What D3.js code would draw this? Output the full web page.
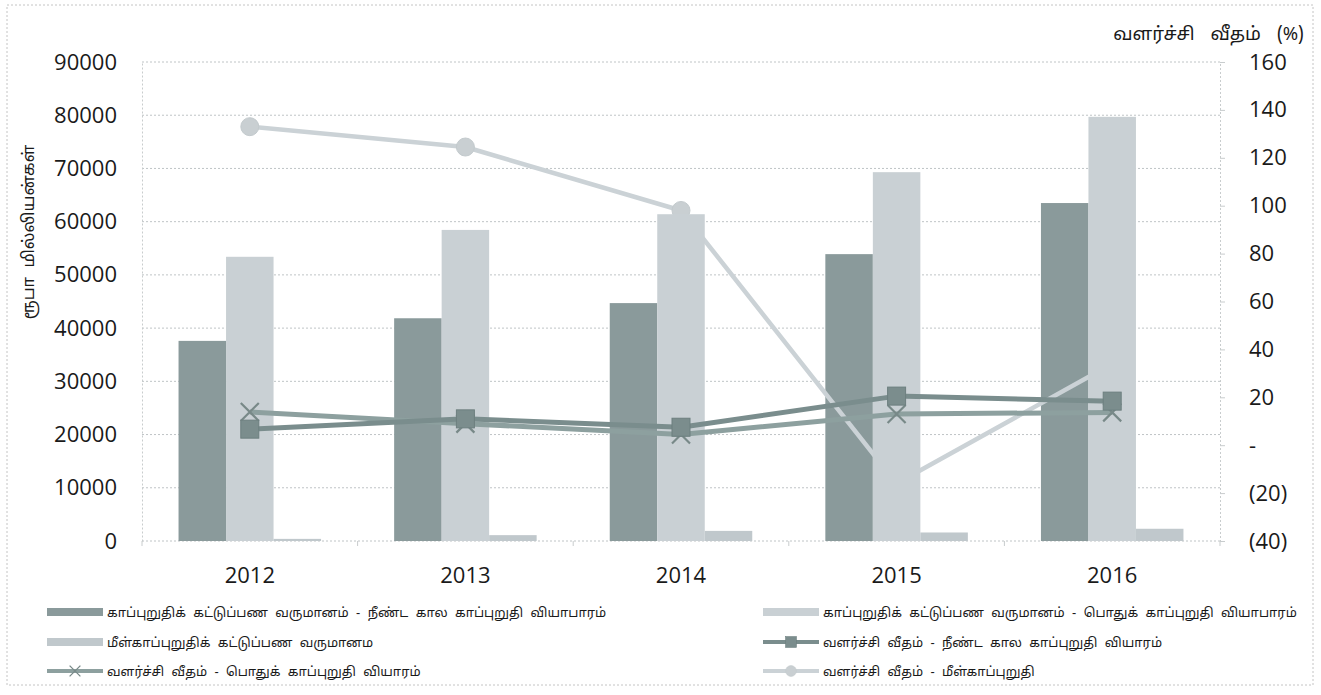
<!DOCTYPE html>
<html><head><meta charset="utf-8">
<script src="https://cdn.jsdelivr.net/npm/d3@7"></script>
<style>body{margin:0;background:#fff} svg{display:block}</style>
</head><body><svg id="c" width="1321" height="695"></svg>
<script>
const years = ["2012", "2013", "2014", "2015", "2016"];
const longTermPremium = [37600, 41850, 44700, 53900, 63500];
const generalPremium = [53400, 58450, 61400, 69300, 79700];
const reinsurancePremium = [400, 1100, 1900, 1600, 2300];
const longTermGrowth = [6.7, 11, 7.5, 20.5, 18.4];
const generalGrowth = [13.9, 9, 4.5, 13, 13.7];
const reinsuranceGrowth = [133, 124.5, 98, -16, 34];
const leftTicks = [0, 10000, 20000, 30000, 40000, 50000, 60000, 70000, 80000, 90000];
const rightTicks = [-40, -20, 0, 20, 40, 60, 80, 100, 120, 140, 160];
const rightTickLabels = ["(40)", "(20)", "-", "20", "40", "60", "80", "100", "120", "140", "160"];
const barNames = [
  "காப்புறுதிக் கட்டுப்பண வருமானம் - நீண்ட கால காப்புறுதி வியாபாரம்",
  "காப்புறுதிக் கட்டுப்பண வருமானம் - பொதுக் காப்புறுதி வியாபாரம்",
  "மீள்காப்புறுதிக் கட்டுப்பண வருமானம"
];
const lineNames = [
  "வளர்ச்சி வீதம் - நீண்ட கால காப்புறுதி வியாரம்",
  "வளர்ச்சி வீதம் - பொதுக் காப்புறுதி வியாரம்",
  "வளர்ச்சி வீதம் - மீள்காப்புறுதி"
];
const leftTitle = "ரூபா மில்லியன்கள்";
const rightTitle = "வளர்ச்சி வீதம் (%)";

const m = {left: 142, right: 1220, top: 62, bottom: 541};
const tamilFont = "'Noto Sans Tamil','Latha','Lohit Tamil',sans-serif";
const numFont = "'Open Sans',Carlito,sans-serif";

const barColors = ["#8a9a9b", "#c9d0d4", "#c0c8cc"];
const lineColors = ["#7a8d8d", "#8da09f", "#cbd2d6"];

const svg = d3.select("#c");
svg.append("rect").attr("x", 7).attr("y", 5).attr("width", 1306).attr("height", 680)
  .attr("fill", "#fff").attr("stroke", "#c4c4c4").attr("stroke-dasharray", "2,2");

const x = d3.scaleBand().domain(years).range([m.left, m.right]).paddingInner(0.339).paddingOuter(0.1695);
const xs = d3.scaleBand().domain([0, 1, 2]).range([0, x.bandwidth()]);
const xc = d => x(d) + x.bandwidth() / 2;
const yL = d3.scaleLinear().domain([0, 90000]).range([m.bottom, m.top]);
const yR = d3.scaleLinear().domain([-40, 160]).range([m.bottom, m.top]);

// gridlines
svg.append("g").selectAll("line").data(leftTicks).join("line")
  .attr("x1", m.left).attr("x2", m.right).attr("y1", d => yL(d)).attr("y2", d => yL(d))
  .attr("stroke", "#bfc4c6").attr("stroke-width", 1).attr("stroke-dasharray", "2,2");

// left axis
const gL = svg.append("g").attr("transform", `translate(${m.left},0)`)
  .call(d3.axisLeft(yL).tickValues(leftTicks).tickSize(0).tickPadding(25).tickFormat(d3.format("d")));
gL.select(".domain").attr("stroke", "#c8cccd").attr("stroke-dasharray", "2,2");
gL.selectAll("text").attr("font-family", numFont).attr("font-size", 22).attr("fill", "#1a1a1a");

// right axis
const gR = svg.append("g").attr("transform", `translate(${m.right},0)`)
  .call(d3.axisRight(yR).tickValues(rightTicks).tickSize(5).tickPadding(24).tickFormat((d, i) => rightTickLabels[i]));
gR.select(".domain").attr("stroke", "#c8cccd").attr("stroke-dasharray", "2,2");
gR.selectAll(".tick line").attr("stroke", "#c8cccd");
gR.selectAll("text").attr("font-family", numFont).attr("font-size", 22).attr("fill", "#1a1a1a");

// bottom axis
const gB = svg.append("g").attr("transform", `translate(0,${m.bottom})`)
  .call(d3.axisBottom(x).tickSize(0).tickPadding(26));
gB.select(".domain").remove();
gB.selectAll("text").attr("font-family", numFont).attr("font-size", 22).attr("fill", "#1a1a1a");
const bounds = years.map(d => x(d) - x.step() * x.paddingInner() / 2).concat([m.right]);
svg.append("g").selectAll("line").data(bounds).join("line")
  .attr("x1", d => d).attr("x2", d => d).attr("y1", m.bottom).attr("y2", m.bottom + 5)
  .attr("stroke", "#c8cccd");

function drawMarker(g, type, cx, cy) {
  if (type === 0) {
    g.append("rect").attr("x", cx - 9).attr("y", cy - 9).attr("width", 18).attr("height", 18)
      .attr("fill", "#7b8d8d").attr("stroke", "#6d7f7f").attr("stroke-width", 1);
  } else if (type === 1) {
    g.append("path").attr("d", `M${cx - 9},${cy - 9}L${cx + 9},${cy + 9}M${cx - 9},${cy + 9}L${cx + 9},${cy - 9}`)
      .attr("stroke", "#788988").attr("stroke-width", 2.2).attr("fill", "none");
  } else {
    g.append("circle").attr("cx", cx).attr("cy", cy).attr("r", 9)
      .attr("fill", "#c9cfd2").attr("stroke", "#c3cacd").attr("stroke-width", 1);
  }
}
const line = d3.line().x((d, i) => xc(years[i])).y(d => yR(d));

const barSeries = [longTermPremium, generalPremium, reinsurancePremium];
function drawBars(si) {
  const vals = barSeries[si];
  svg.append("g").selectAll("rect").data(years).join("rect")
    .attr("x", d => x(d) + xs(si)).attr("width", xs.bandwidth())
    .attr("y", (d, i) => yL(vals[i])).attr("height", (d, i) => yL(0) - yL(vals[i]))
    .attr("fill", barColors[si]);
}
drawBars(0);
// reinsurance growth line (light, blends behind general bars)
svg.append("path").datum(reinsuranceGrowth).attr("d", line).attr("fill", "none")
  .attr("stroke", lineColors[2]).attr("stroke-width", 4.5).attr("stroke-linejoin", "round");
const mg0 = svg.append("g");
reinsuranceGrowth.forEach((v, i) => drawMarker(mg0, 2, xc(years[i]), yR(v)));
drawBars(1);
drawBars(2);

// other growth lines
[[generalGrowth, 1], [longTermGrowth, 0]].forEach(([vals, li]) => {
  svg.append("path").datum(vals).attr("d", line).attr("fill", "none")
    .attr("stroke", lineColors[li]).attr("stroke-width", 5).attr("stroke-linejoin", "round");
});
const mg = svg.append("g");
[[generalGrowth, 1], [longTermGrowth, 0]].forEach(([vals, t]) => {
  vals.forEach((v, i) => drawMarker(mg, t, xc(years[i]), yR(v)));
});

// axis titles
svg.append("text").attr("transform", `translate(34,232) rotate(-90)`)
  .attr("text-anchor", "middle").attr("font-family", tamilFont).attr("font-size", 16.5)
  .attr("fill", "#1a1a1a").attr("word-spacing", 5).text(leftTitle);
svg.append("text").attr("x", 1304).attr("y", 40).attr("text-anchor", "end")
  .attr("font-family", tamilFont).attr("font-size", 18.5).attr("fill", "#1a1a1a")
  .attr("word-spacing", 11).text(rightTitle);

// legend
const legendItems = [
  {name: barNames[0], kind: "bar", idx: 0, col: 0, row: 0},
  {name: barNames[1], kind: "bar", idx: 1, col: 1, row: 0},
  {name: barNames[2], kind: "bar", idx: 2, col: 0, row: 1},
  {name: lineNames[0], kind: "line", idx: 0, col: 1, row: 1},
  {name: lineNames[1], kind: "line", idx: 1, col: 0, row: 2},
  {name: lineNames[2], kind: "line", idx: 2, col: 1, row: 2}
];
const colX = [47, 763];
const rowY = [612, 642, 671];
const lg = svg.append("g");
legendItems.forEach(it => {
  const sx = colX[it.col], cy = rowY[it.row];
  if (it.kind === "bar") {
    lg.append("rect").attr("x", sx).attr("y", cy - 4).attr("width", 56).attr("height", 8).attr("fill", barColors[it.idx]);
  } else {
    lg.append("line").attr("x1", sx).attr("x2", sx + 56).attr("y1", cy).attr("y2", cy)
      .attr("stroke", lineColors[it.idx]).attr("stroke-width", 4);
    const g2 = lg.append("g").attr("transform", `translate(${sx + 28},${cy}) scale(0.6)`);
    drawMarker(g2, it.idx, 0, 0);
  }
  lg.append("text").attr("x", sx + 60).attr("y", cy).attr("dy", "0.35em")
    .attr("font-family", tamilFont).attr("font-size", 13).attr("word-spacing", 4)
    .attr("fill", "#1a1a1a").text(it.name);
});
</script></body></html>
